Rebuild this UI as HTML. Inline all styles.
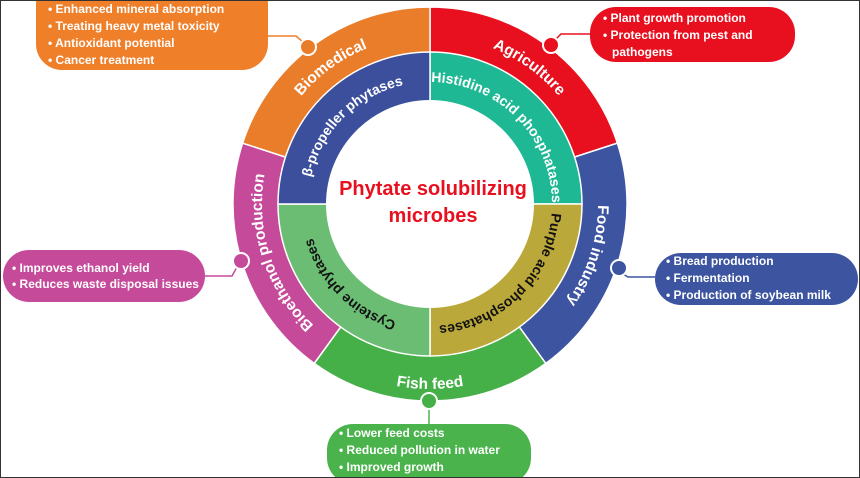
<!DOCTYPE html>
<html><head><meta charset="utf-8"><style>
html,body{margin:0;padding:0;background:#fff}
body{width:860px;height:478px;overflow:hidden;position:relative;font-family:"Liberation Sans",sans-serif}
.frame{position:absolute;left:0;top:0;width:858px;height:476px;border:1px solid #333}
</style></head><body>
<svg width="860" height="478" viewBox="0 0 860 478" style="position:absolute;left:0;top:0" font-family="Liberation Sans, sans-serif" font-weight="bold">
<defs>
<path id="outerCW" d="M430,36 A168,168 0 1,1 430,372 A168,168 0 1,1 430,36"/>
<path id="innerCW" d="M430,82 A122,122 0 1,1 430,326 A122,122 0 1,1 430,82"/>
<path id="bottomCCW" d="M245,204 A185,185 0 0,0 615,204"/>
</defs>
<rect x="36" y="-25" width="232" height="95" rx="26" fill="#f07f2a"/>
<polyline points="268,36 296,36 304,43" fill="none" stroke="#f07f2a" stroke-width="1.5"/>
<rect x="590" y="7" width="205" height="55" rx="26" fill="#e8101f"/>
<polyline points="590,34 561,34 554,41" fill="none" stroke="#e8101f" stroke-width="1.5"/>
<rect x="3" y="250" width="202" height="52" rx="26" fill="#c64a9a"/>
<polyline points="205,276 232,276 237,267" fill="none" stroke="#c64a9a" stroke-width="1.5"/>
<rect x="655" y="253" width="203" height="52" rx="26" fill="#3d55a0"/>
<polyline points="623,274 628,277 655,277" fill="none" stroke="#3d55a0" stroke-width="1.5"/>
<rect x="327" y="424" width="204" height="60" rx="26" fill="#4ab34c"/>
<line x1="429" y1="408" x2="429" y2="424" stroke="#4ab34c" stroke-width="1.5"/>
<g stroke="#fff" stroke-width="1.5">
<path d="M430,204 L430,7 A197,197 0 0,1 617.4,143.1 Z" fill="#e8101f"/>
<path d="M430,204 L617.4,143.1 A197,197 0 0,1 545.8,363.4 Z" fill="#3d55a0"/>
<path d="M430,204 L545.8,363.4 A197,197 0 0,1 314.2,363.4 Z" fill="#46b048"/>
<path d="M430,204 L314.2,363.4 A197,197 0 0,1 242.6,143.1 Z" fill="#c64a9a"/>
<path d="M430,204 L242.6,143.1 A197,197 0 0,1 430,7 Z" fill="#ea7d2a"/>
<path d="M430,204 L430,52 A152,152 0 0,1 582,204 Z" fill="#1fb894"/>
<path d="M430,204 L582,204 A152,152 0 0,1 430,356 Z" fill="#bba83a"/>
<path d="M430,204 L430,356 A152,152 0 0,1 278,204 Z" fill="#6cbd74"/>
<path d="M430,204 L278,204 A152,152 0 0,1 430,52 Z" fill="#3b4f9d"/>
</g>
<circle cx="430" cy="204" r="104" fill="#fff"/>
<g stroke="#fff" stroke-width="2">
<circle cx="308" cy="47" r="8" fill="#ea7d2a"/>
<circle cx="551" cy="45" r="8" fill="#e8101f"/>
<circle cx="241" cy="261" r="8" fill="#c64a9a"/>
<circle cx="619" cy="268" r="8" fill="#3d55a0"/>
<circle cx="429" cy="401" r="8" fill="#46b048"/>
</g>
<g fill="#fff" font-size="15.5">
<text><textPath href="#outerCW" startOffset="10%" text-anchor="middle">Agriculture</textPath></text>
<text><textPath href="#outerCW" startOffset="30%" text-anchor="middle">Food industry</textPath></text>
<text><textPath href="#outerCW" startOffset="70%" text-anchor="middle">Bioethanol production</textPath></text>
<text><textPath href="#outerCW" startOffset="90%" text-anchor="middle">Biomedical</textPath></text>
<text><textPath href="#bottomCCW" startOffset="50%" text-anchor="middle">Fish feed</textPath></text>
</g>
<g font-size="14">
<text fill="#fff"><textPath href="#innerCW" startOffset="12.5%" text-anchor="middle">Histidine acid phosphatases</textPath></text>
<text fill="#111"><textPath href="#innerCW" startOffset="37.5%" text-anchor="middle">Purple acid phosphatases</textPath></text>
<text fill="#111"><textPath href="#innerCW" startOffset="62.5%" text-anchor="middle">Cysteine phytases</textPath></text>
<text fill="#fff"><textPath href="#innerCW" startOffset="87.5%" text-anchor="middle">β-propeller phytases</textPath></text>
</g>
<g fill="#e8101f" font-size="20" text-anchor="middle">
<text x="433" y="195">Phytate solubilizing</text>
<text x="433" y="222">microbes</text>
</g>
<g fill="#fff" font-size="12">
<text x="48" y="13">• Enhanced mineral absorption</text>
<text x="48" y="30">• Treating heavy metal toxicity</text>
<text x="48" y="47">• Antioxidant potential</text>
<text x="48" y="64">• Cancer treatment</text>
<text x="603" y="22">• Plant growth promotion</text>
<text x="603" y="39">• Protection from pest and</text>
<text x="612" y="56">pathogens</text>
<text x="12" y="272">• Improves ethanol yield</text>
<text x="12" y="288">• Reduces waste disposal issues</text>
<text x="666" y="265">• Bread production</text>
<text x="666" y="282">• Fermentation</text>
<text x="666" y="299">• Production of soybean milk</text>
<text x="339" y="437">• Lower feed costs</text>
<text x="339" y="454">• Reduced pollution in water</text>
<text x="339" y="471">• Improved growth</text>
</g>
</svg>
<div class="frame"></div>
</body></html>
